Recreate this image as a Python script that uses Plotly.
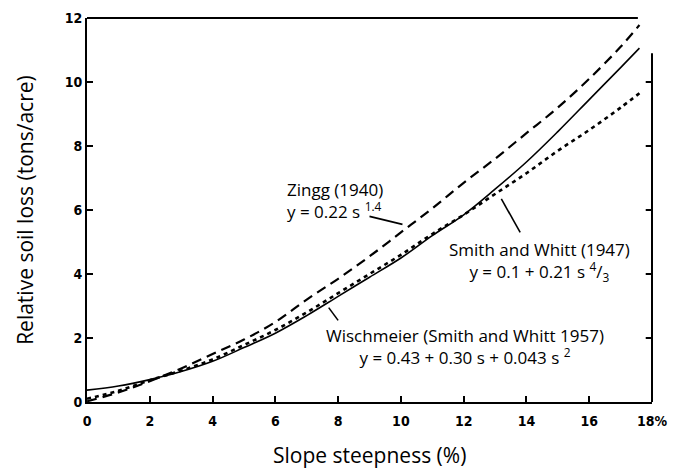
import plotly.graph_objects as go

# Slope steepness (%) sample points
s_vals = [0, 1, 2, 3, 4, 5, 6, 7, 8, 9, 10, 11, 12, 13, 14, 15, 16, 17, 17.6]

# Wischmeier (Smith and Whitt 1957) - solid
wischmeier = [0.37, 0.5, 0.7, 0.95, 1.27, 1.7, 2.15, 2.7, 3.3, 3.9, 4.5, 5.2, 5.85, 6.65, 7.5, 8.45, 9.45, 10.45, 11.06]
# Zingg (1940) - long dashes
zingg = [0.02, 0.3, 0.65, 1.05, 1.5, 1.95, 2.5, 3.2, 3.85, 4.55, 5.3, 6.05, 6.85, 7.6, 8.4, 9.2, 10.1, 11.1, 11.78]
# Smith and Whitt (1947) - short dashes
smith_whitt = [0.1, 0.35, 0.68, 0.98, 1.33, 1.78, 2.25, 2.8, 3.4, 4.0, 4.6, 5.25, 5.85, 6.5, 7.15, 7.85, 8.5, 9.2, 9.65]

x_tickvals = [0, 2, 4, 6, 8, 10, 12, 14, 16, 18]
x_ticktext = ["0", "2", "4", "6", "8", "10", "12", "14", "16", "18%"]
y_tickvals = [0, 2, 4, 6, 8, 10, 12]
y_ticktext = ["0", "2", "4", "6", "8", "10", "12"]
right_tickvals = [2, 4, 6, 8, 10]

fig = go.Figure()
fig.add_trace(go.Scatter(x=s_vals, y=zingg, mode="lines", line=dict(color="black", width=2.2, dash="10px,6px"),
                         line_shape="spline", showlegend=False))
fig.add_trace(go.Scatter(x=s_vals, y=smith_whitt, mode="lines", line=dict(color="black", width=2.6, dash="4px,4px"),
                         line_shape="spline", showlegend=False))
fig.add_trace(go.Scatter(x=s_vals, y=wischmeier, mode="lines", line=dict(color="black", width=1.6),
                         line_shape="spline", showlegend=False))

tickfont = dict(family="DejaVu Sans Condensed, DejaVu Sans", size=14, color="black")
txtfont = dict(family="Open Sans", size=17, color="black")
titlefont = dict(family="Open Sans", size=21, color="black")

fig.update_layout(
    width=675, height=471,
    margin=dict(l=87, r=23, t=18, b=69),
    plot_bgcolor="white", paper_bgcolor="white",
    xaxis=dict(range=[0, 18], tickvals=x_tickvals, ticktext=["<b>%s</b>" % t for t in x_ticktext],
               ticks="inside", ticklen=6, tickwidth=2, automargin=False, ticklabelstandoff=5,
               tickcolor="black", showline=True, linecolor="black", linewidth=2, showgrid=False, zeroline=False,
               tickfont=tickfont),
    yaxis=dict(range=[0, 12], tickvals=y_tickvals, ticktext=["<b>%s</b>" % t for t in y_ticktext],
               ticks="inside", ticklen=6, tickwidth=2, automargin=False,
               tickcolor="black", showline=True, linecolor="black", linewidth=2, showgrid=False, zeroline=False,
               tickfont=tickfont),
)

# broken frame: top line and right line
fig.add_shape(type="line", xref="x", yref="paper", x0=0, x1=17.55, y0=1.0, y1=1.0, line=dict(color="black", width=2))
fig.add_shape(type="line", xref="paper", yref="y", x0=1.0, x1=1.0, y0=0, y1=10.9, line=dict(color="black", width=2))
for v in right_tickvals:
    fig.add_shape(type="line", xref="x", yref="y", x0=17.8, x1=18, y0=v, y1=v, line=dict(color="black", width=2))

# leader lines from labels to curves
fig.add_shape(type="line", xref="x", yref="y", x0=9.0, y0=5.8, x1=10.05, y1=5.55, line=dict(color="black", width=1.6))
fig.add_shape(type="line", xref="x", yref="y", x0=13.8, y0=5.3, x1=13.2, y1=6.35, line=dict(color="black", width=1.6))
fig.add_shape(type="line", xref="x", yref="y", x0=8.0, y0=2.55, x1=7.7, y1=2.95, line=dict(color="black", width=1.6))

# axis titles
fig.add_annotation(xref="paper", yref="paper", x=0.5, y=-0.138, yanchor="middle", showarrow=False,
                   text="Slope steepness (%)", font=titlefont)
fig.add_annotation(xref="paper", yref="paper", x=-0.11, y=0.5, xanchor="center", showarrow=False, textangle=-90,
                   text="Relative soil loss (tons/acre)", font=titlefont)

# curve labels
fig.add_annotation(xref="x", yref="y", x=6.3, y=6.3, xanchor="left", yanchor="middle", align="left",
                   showarrow=False, font=txtfont,
                   text="Zingg (1940)<br>y = 0.22 s <sup>1.4</sup>")
fig.add_annotation(xref="x", yref="y", x=14.43, y=4.4, xanchor="center", yanchor="middle", align="center",
                   showarrow=False, font=txtfont,
                   text="Smith and Whitt (1947)<br>y = 0.1 + 0.21 s <sup>4</sup>/<sub>3</sub>")
fig.add_annotation(xref="x", yref="y", x=12.05, y=1.72, xanchor="center", yanchor="middle", align="center",
                   showarrow=False, font=txtfont,
                   text="Wischmeier (Smith and Whitt 1957)<br>y = 0.43 + 0.30 s + 0.043 s <sup>2</sup>")

fig.write_html("out.html", config={"displayModeBar": False},
               post_script="document.body.style.margin='0';document.body.style.padding='0';")
